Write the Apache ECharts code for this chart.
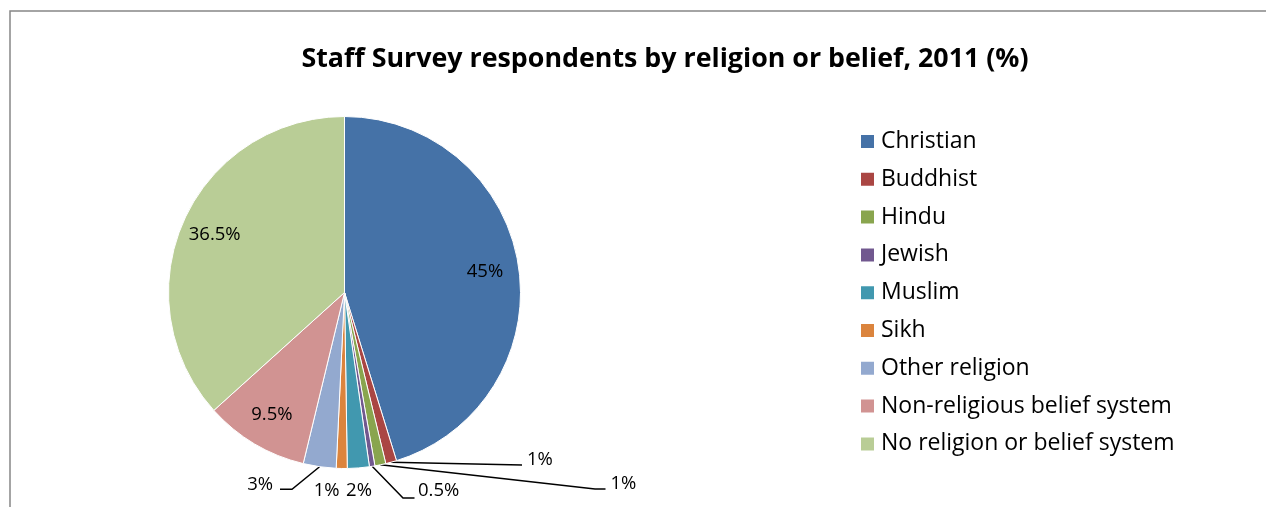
<!DOCTYPE html>
<html><head><meta charset="utf-8">
<script src="https://cdn.jsdelivr.net/npm/echarts@6/dist/echarts.min.js"></script>
<style>html,body{margin:0;padding:0;background:#fff}#c{width:1266px;height:507px}</style>
</head><body><div id="c"></div>
<script>
// ---- data ----
const categories = ['Christian','Buddhist','Hindu','Jewish','Muslim','Sikh','Other religion','Non-religious belief system','No religion or belief system'];
const values = [45, 1, 1, 0.5, 2, 1, 3, 9.5, 36.5];
const colors = ['#4572A7','#AA4643','#89A54E','#71588F','#4198AF','#DB843D','#93A9CF','#D19392','#B9CD96'];
const insideLabelIdx = [0, 7, 8];

// ---- layout ----
const CX = 344.5, CY = 292.5, R = 176;
const FONT = 'Open Sans';
// outside label placement, offsets from pie centre
const outsideLayout = {
  1: {label: [182.5, 167.5], align: 'left',  line: [[177.5, 172.5], [177.5, 172.5]]},
  2: {label: [266, 191.5],   align: 'left',  line: [[250.5, 196.5], [261, 196.5]]},
  3: {label: [73.5, 198.5],  align: 'left',  line: [[58.5, 205.5], [70, 205.5]]},
  4: {label: [14.5, 198.5],  align: 'center'},
  5: {label: [-17.8, 198.5], align: 'center'},
  6: {label: [-71.5, 192.5], align: 'right', line: [[-52.5, 196.8], [-64.5, 196.8]]}
};

const mainData = categories.map((n, i) => ({
  name: n, value: values[i],
  itemStyle: {color: colors[i]},
  label: {show: !insideLabelIdx.includes(i)},
  labelLine: {show: !!(outsideLayout[i] && outsideLayout[i].line)}
}));
const overlayData = categories.map((n, i) => ({
  name: n, value: values[i],
  label: {show: insideLabelIdx.includes(i)}
}));

const chart = echarts.init(document.getElementById('c'), null, {renderer: 'canvas'});
chart.setOption({
  animation: false,
  backgroundColor: '#fff',
  color: colors,
  title: {
    text: 'Staff Survey respondents by religion or belief, 2011 (%)',
    left: 660, top: 41, textAlign: 'center',
    textStyle: {fontFamily: FONT, fontWeight: 'bold', fontSize: 26.8, color: '#000'}
  },
  graphic: [{
    type: 'rect', left: 7.5, top: 8.5, silent: true,
    shape: {width: 1400, height: 700},
    style: {fill: 'none', stroke: '#878787', lineWidth: 1.5}
  }],
  legend: {
    orient: 'vertical', left: 859, top: 130, padding: 0,
    data: categories,
    itemWidth: 15, itemHeight: 15, itemGap: 14.8,
    icon: 'rect',
    textStyle: {fontFamily: FONT, fontSize: 23, color: '#000', lineHeight: 22, padding: [0, 0, 0, 1]}
  },
  series: [{
    type: 'pie',
    center: [CX, CY], radius: [0, R],
    startAngle: 90, clockwise: true,
    avoidLabelOverlap: false,
    silent: true,
    itemStyle: {borderColor: '#ffffff', borderWidth: 1},
    label: {position: 'outside', formatter: '{c}%', fontFamily: FONT, fontSize: 18.5, color: '#000'},
    labelLine: {lineStyle: {color: '#000', width: 1.5}, length: 10, length2: 10},
    labelLayout: function (p) {
      const L = outsideLayout[p.dataIndex];
      if (!L) return {};
      const out = {
        x: CX + L.label[0], y: CY + L.label[1],
        align: L.align, verticalAlign: 'middle'
      };
      if (L.line && p.labelLinePoints) {
        out.labelLinePoints = [p.labelLinePoints[0]].concat(L.line.map(q => [CX + q[0], CY + q[1]]));
      }
      return out;
    },
    data: mainData
  }, {
    type: 'pie',
    center: [CX, CY], radius: [R * 0.58, R],
    startAngle: 90, clockwise: true,
    silent: true,
    itemStyle: {color: 'rgba(0,0,0,0)', borderWidth: 0},
    label: {position: 'inside', formatter: '{c}%', fontFamily: FONT, fontSize: 18.5, color: '#000'},
    labelLine: {show: false},
    data: overlayData
  }]
});
</script></body></html>
